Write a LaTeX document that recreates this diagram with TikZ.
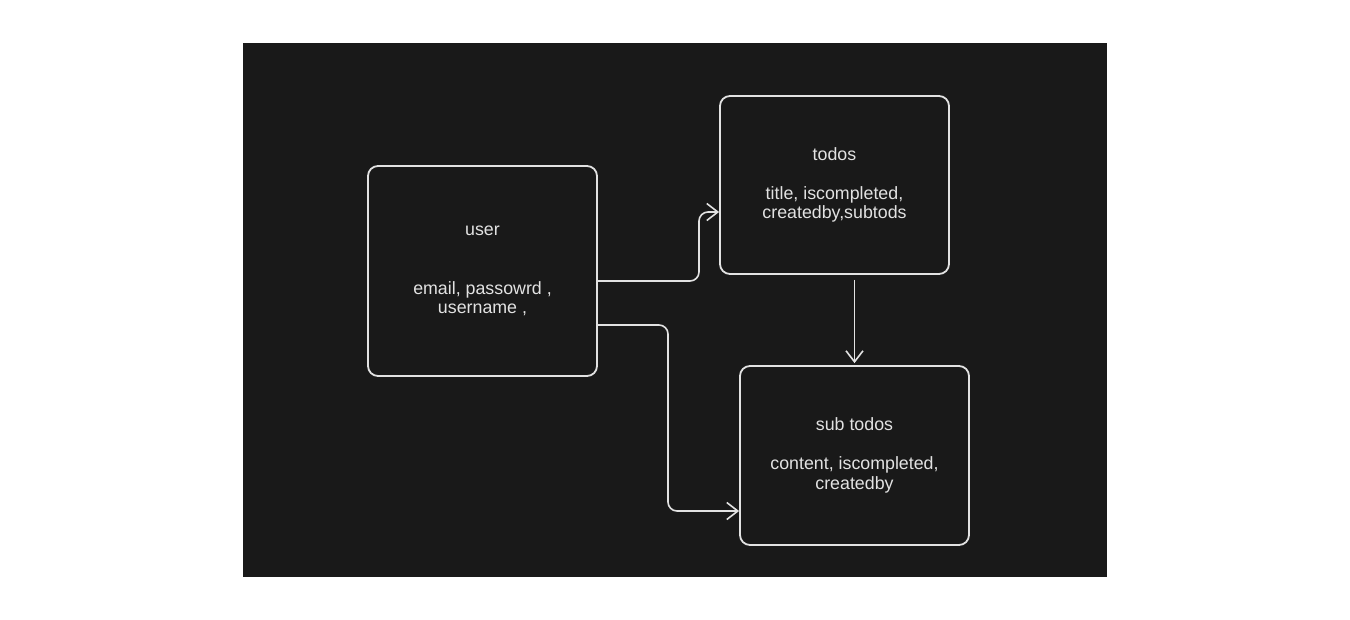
\documentclass[tikz,border=0pt]{standalone}
\usepackage{fontspec}
\setmainfont{Liberation Sans}
\usetikzlibrary{positioning,calc,arrows.meta}
\definecolor{boardbg}{HTML}{191919}
\definecolor{chalk}{HTML}{E2E2E2}
\begin{document}
\begin{tikzpicture}[x=1pt, y=-1pt,
  entity/.style = {draw=chalk, line width=1.8pt, rounded corners=10pt,
    text=chalk, align=center, inner sep=0pt,
    font=\fontsize{17.8}{19.5}\selectfont},
  arr/.style = {draw=chalk, line width=1.6pt, rounded corners=9pt,
    -{Straight Barb[length=11pt, width=17pt, line width=1.6pt]}}
  ]
  \useasboundingbox (0,0) rectangle (1350,619);
  \fill[boardbg] (243,43) rectangle (1107,577);

  \node (user) [entity, minimum width=229pt, minimum height=210pt]
    at (482.5,271) {user\\[39pt]email, passowrd ,\\username ,};
  \node (todos) [entity, minimum width=229pt, minimum height=178pt]
    at (834.5,185) {todos\\[19.5pt]title, iscompleted,\\createdby,subtods};
  \node (subtodos) [entity, minimum width=229pt, minimum height=179pt]
    at (854.5,455.5) {sub todos\\[19.5pt]content, iscompleted,\\createdby};

  \coordinate (u1) at ($(user.east)+(0,10)$);
  \coordinate (u2) at ($(user.east)+(0,54)$);

  \draw [arr] (u1) -- (699,281) -- (699,212) -- (todos.west |- 0,212);
  \draw [arr] (u2) -- (668,325) -- (668,511) -- (subtodos.west |- 0,511);
  \draw [arr] ($(todos.south)+(20,5)$) -- ($(subtodos.north)+(0,-2)$);
\end{tikzpicture}
\end{document}
